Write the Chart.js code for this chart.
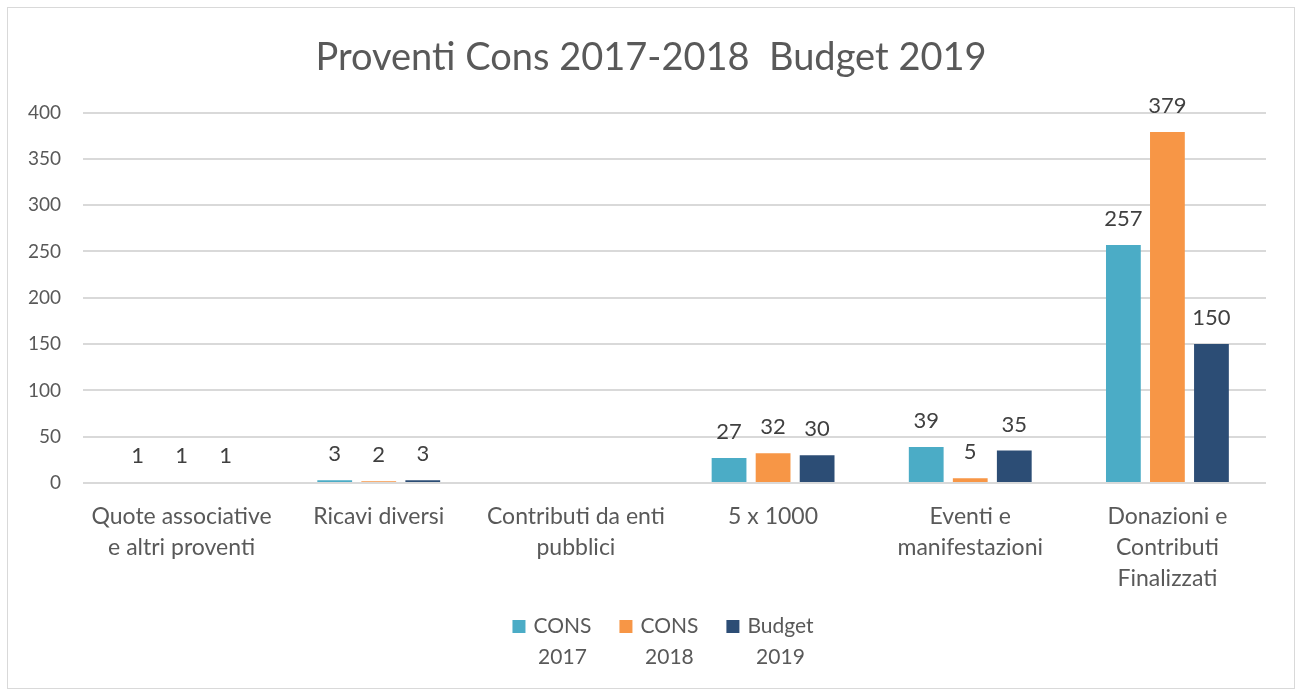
<!DOCTYPE html>
<html>
<head>
<meta charset="utf-8">
<script src="https://cdn.jsdelivr.net/npm/chart.js@4.4.1/dist/chart.umd.min.js"></script>
<style>
    body { margin: 0; background: #fff; }
    #wrap {
        position: absolute; left: 7px; top: 7px;
        width: 1288px; height: 682px;
        border: 1px solid #d9d9d9; box-sizing: border-box;
    }
</style>
</head>
<body>
<div id="wrap"><canvas id="chart"></canvas></div>
<script>
const categories = [
    ['Quote associative', 'e altri proventi'],
    ['Ricavi diversi'],
    ['Contributi da enti', 'pubblici'],
    ['5 x 1000'],
    ['Eventi e', 'manifestazioni'],
    ['Donazioni e', 'Contributi', 'Finalizzati']
];
const cons2017 = [1, 3, null, 27, 39, 257];
const cons2018 = [1, 2, null, 32, 5, 379];
const budget2019 = [1, 3, null, 30, 35, 150];
const seriesNames = [['CONS', '2017'], ['CONS', '2018'], ['Budget', '2019']];
const yTicks = [0, 50, 100, 150, 200, 250, 300, 350, 400];

const colors = ['#4BACC6', '#F79646', '#2C4D75'];
const FONT = 'Lato, "Open Sans", sans-serif';

// value labels above each bar
const valueLabels = {
    id: 'valueLabels',
    afterDatasetsDraw(chart) {
        const ctx = chart.ctx;
        ctx.save();
        ctx.font = '22px ' + FONT;
        ctx.fillStyle = '#404040';
        ctx.textAlign = 'center';
        ctx.textBaseline = 'middle';
        chart.data.datasets.forEach((ds, i) => {
            chart.getDatasetMeta(i).data.forEach((bar, j) => {
                if (ds.data[j] === null) return;
                ctx.fillText(ds.data[j], bar.x, bar.y - 26);
            });
        });
        ctx.restore();
    }
};

// legend with two-line labels
const bottomLegend = {
    id: 'bottomLegend',
    afterDraw(chart) {
        const ctx = chart.ctx;
        ctx.save();
        ctx.font = '21px ' + FONT;
        const box = 13, gapBox = 8, gapItem = 28;
        const widths = seriesNames.map(lines => Math.max(...lines.map(l => ctx.measureText(l).width)));
        const total = widths.reduce((s, w) => s + box + gapBox + w, 0) + gapItem * (widths.length - 1);
        let x = chart.width / 2 - total / 2 + 12;
        const y1 = 618, y2 = 649;
        seriesNames.forEach((lines, i) => {
            ctx.fillStyle = colors[i];
            ctx.fillRect(x, y1 - 6, box, box);
            const cx = x + box + gapBox + widths[i] / 2;
            ctx.fillStyle = '#595959';
            ctx.textAlign = 'center';
            ctx.textBaseline = 'middle';
            ctx.fillText(lines[0], cx, y1);
            ctx.fillText(lines[1], cx, y2);
            x += box + gapBox + widths[i] + gapItem;
        });
        ctx.restore();
    }
};

const datasets = [cons2017, cons2018, budget2019].map((values, i) => ({
    label: seriesNames[i].join(' '),
    data: values,
    backgroundColor: colors[i],
    barPercentage: 0.79,
    categoryPercentage: 0.67
}));

new Chart(document.getElementById('chart'), {
    type: 'bar',
    data: { labels: categories, datasets: datasets },
    options: {
        responsive: true,
        maintainAspectRatio: false,
        animation: false,
        layout: { padding: { left: 14, right: 14, top: 0, bottom: 76 } },
        scales: {
            x: {
                grid: { display: false, drawTicks: false },
                border: { display: false },
                afterFit: axis => { axis.paddingLeft = 0; axis.paddingRight = 28; },
                ticks: {
                    color: '#595959',
                    font: { family: FONT, size: 23, lineHeight: 1.348 },
                    padding: 18,
                    maxRotation: 0,
                    autoSkip: false
                }
            },
            y: {
                min: 0,
                max: 400,
                afterBuildTicks: axis => { axis.ticks = yTicks.map(v => ({ value: v })); },
                afterFit: axis => { axis.width = 61; },
                grid: { color: '#d9d9d9', lineWidth: 2, drawTicks: false },
                border: { display: false },
                ticks: {
                    color: '#595959',
                    font: { family: FONT, size: 19 },
                    padding: 22
                }
            }
        },
        plugins: {
            legend: { display: false },
            tooltip: { enabled: false },
            title: {
                display: true,
                text: 'Proventi Cons 2017-2018  Budget 2019',
                color: '#595959',
                font: { family: FONT, size: 38, weight: 'normal' },
                padding: { top: 27, bottom: 32 }
            }
        }
    },
    plugins: [valueLabels, bottomLegend]
});
</script>
</body>
</html>
